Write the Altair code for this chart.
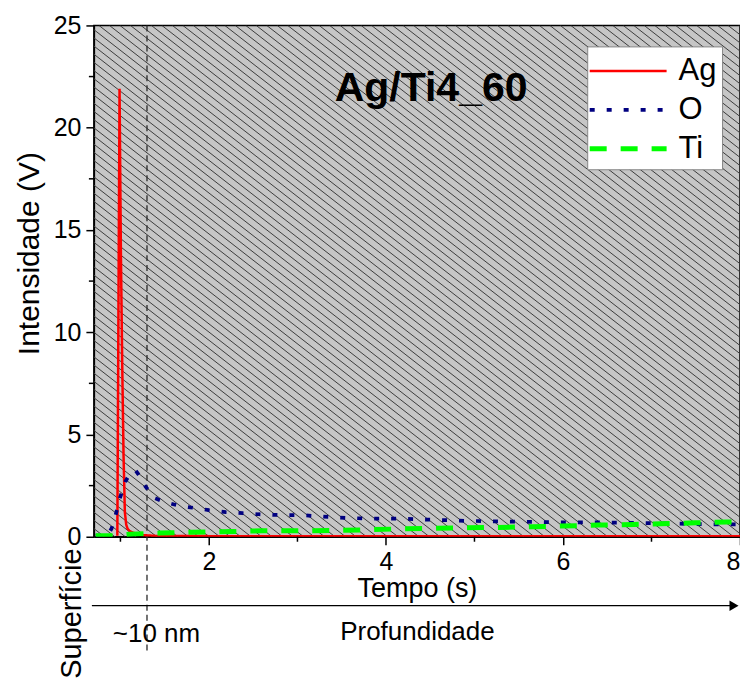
import altair as alt
import pandas as pd
import numpy as np

# ---------------- data ----------------
ag_x = [0.965, 0.99, 1.005, 1.02, 1.035, 1.05, 1.065, 1.08, 1.1, 1.13, 1.18, 1.25, 1.4, 2.0, 3.0, 4.0, 5.0, 6.0, 7.0, 8.0]
ag_y = [0.05, 21.9, 14.0, 8.5, 4.0, 1.2, 0.6, 0.4, 0.3, 0.22, 0.14, 0.08, 0.04, 0.03, 0.03, 0.03, 0.03, 0.03, 0.03, 0.03]

o_x = [0.72, 0.8, 0.86, 0.9, 0.94, 0.995, 1.056, 1.11, 1.17, 1.22, 1.27, 1.38, 1.51, 1.68, 1.85, 2.0,
       2.19, 2.38, 2.56, 2.74, 3.1, 3.46, 3.82, 4.16, 4.53, 4.89, 5.26, 5.65, 5.99, 6.43, 6.78, 7.31, 7.68, 8.0]
o_y = [0.05, 0.06, 0.1, 0.4, 0.96, 1.9, 2.7, 3.1, 3.25, 2.95, 2.54, 1.9, 1.68, 1.5, 1.4, 1.3,
       1.2, 1.15, 1.1, 1.07, 1.04, 0.94, 0.88, 0.88, 0.83, 0.78, 0.75, 0.73, 0.70, 0.70, 0.68, 0.64, 0.6, 0.6]

ti_x = [0.72, 0.8, 0.9, 0.95, 1.0, 1.05, 1.1, 1.2, 1.3, 1.45, 1.6, 1.8, 2.0, 2.3, 2.6, 3.1, 3.46, 3.8,
        4.2, 4.55, 4.9, 5.25, 5.65, 5.97, 6.4, 6.8, 7.1, 7.5, 7.85, 8.0]
ti_y = [0.05, 0.05, 0.05, 0.06, 0.08, 0.1, 0.12, 0.14, 0.16, 0.18, 0.2, 0.22, 0.24, 0.26, 0.29, 0.29, 0.31, 0.34,
        0.39, 0.41, 0.44, 0.45, 0.49, 0.52, 0.57, 0.60, 0.63, 0.68, 0.72, 0.73]

series = ["Ag", "O", "Ti"]
series_colors = ["#ff0000", "#000080", "#00ff00"]
series_dash = [[1, 0], [5, 12], [17, 14]]
series_width = [2.5, 5, 4.5]

x_ticks = [2, 4, 6, 8]
x_minor = [1, 3, 5, 7]
y_ticks = [0, 5, 10, 15, 20, 25]
y_minor = [2.5, 7.5, 12.5, 17.5, 22.5]

x_dom = [0.7, 8]
y_dom = [0, 25]
cut_x = 1.3   # ~10 nm marker

W, H = 647, 512
FONT = "Liberation Sans, Arial, sans-serif"

df = pd.concat([
    pd.DataFrame({"t": ag_x, "v": ag_y, "s": "Ag"}),
    pd.DataFrame({"t": o_x, "v": o_y, "s": "O"}),
    pd.DataFrame({"t": ti_x, "v": ti_y, "s": "Ti"}),
], ignore_index=True)

xs = alt.Scale(domain=x_dom, nice=False, zero=False)
ys = alt.Scale(domain=y_dom, nice=False)

# ---------------- hatch background (decoration) ----------------
px_per_x = W / (x_dom[1] - x_dom[0])
slope = 0.78
dx_line = (H / slope) / px_per_x
step = 10.5 / px_per_x
starts = np.arange(x_dom[0] - dx_line, x_dom[1] + step, step)
hatch = pd.DataFrame({"x1": starts, "x2": starts + dx_line, "y1": y_dom[1], "y2": y_dom[0]})
hatch_layer = alt.Chart(hatch).mark_rule(color="#3c3c3c", strokeWidth=1, clip=True).encode(
    x=alt.X("x1:Q", scale=xs), x2="x2:Q", y=alt.Y("y1:Q", scale=ys), y2="y2:Q")

# ---------------- dashed marker ----------------
cut = alt.Chart(pd.DataFrame({"c": [cut_x]})).mark_rule(
    color="#2a2a2a", strokeWidth=1.3, strokeDash=[6, 4]).encode(
    x=alt.X("c:Q", scale=xs), y=alt.value(0), y2=alt.value(630))

# ---------------- curves ----------------
sym_len = 77.0
sym_box = 36.0
sym_path = "M-{0:.3f},0H{0:.3f}".format(sym_len / sym_box)

lines = alt.Chart(df).mark_line(clip=True, strokeCap="butt").encode(
    x=alt.X("t:Q", scale=xs,
            axis=alt.Axis(values=x_ticks, format="d", title="Tempo (s)", labelFlush=True, grid=False)),
    y=alt.Y("v:Q", scale=ys,
            axis=alt.Axis(values=y_ticks, title="Intensidade (V)", grid=False, titleY=228,
                          titleFontSize=30)),
    color=alt.Color("s:N", scale=alt.Scale(domain=series, range=series_colors), title=None,
                    legend=alt.Legend(orient="none", legendX=494, legendY=21, title=None,
                                      symbolType=sym_path, symbolSize=sym_box * sym_box,
                                      symbolOffset=(sym_len - sym_box) / 2 - 5,
                                      labelFontSize=31, labelFont=FONT,
                                      labelOffset=sym_len - sym_box - 11,
                                      fillColor="white", strokeColor="#888888",
                                      padding=5, rowPadding=3.5)),
    strokeDash=alt.StrokeDash("s:N", scale=alt.Scale(domain=series, range=series_dash), title=None),
    strokeWidth=alt.StrokeWidth("s:N", scale=alt.Scale(domain=series, range=series_width), title=None),
    order="t:Q",
)

# ---------------- minor ticks ----------------
xminor = alt.Chart(pd.DataFrame({"m": x_minor})).mark_rule(color="black", strokeWidth=1.5).encode(
    x=alt.X("m:Q", scale=xs), y=alt.value(H), y2=alt.value(H + 5))
yminor = alt.Chart(pd.DataFrame({"m": y_minor})).mark_rule(color="black", strokeWidth=1.5).encode(
    y=alt.Y("m:Q", scale=ys), x=alt.value(-5), x2=alt.value(0))

# ---------------- title inside plot ----------------
title = alt.Chart(pd.DataFrame({"tx": [4.51], "ty": [21.9], "lab": ["Ag/Ti4_60"]})).mark_text(
    font=FONT, fontSize=41, fontWeight="bold", color="black", align="center", baseline="middle").encode(
    x=alt.X("tx:Q", scale=xs), y=alt.Y("ty:Q", scale=ys), text="lab:N")

# ---------------- depth annotation below axis ----------------
arrow = alt.Chart(pd.DataFrame({"a": [0]})).mark_rule(color="black", strokeWidth=1.2).encode(
    x=alt.value(-2), x2=alt.value(640), y=alt.value(581))
head = alt.Chart(pd.DataFrame({"a": [0]})).mark_point(
    shape="triangle-right", filled=True, color="black", size=110, opacity=1).encode(
    x=alt.value(641), y=alt.value(581))
t_nm = alt.Chart(pd.DataFrame({"lab": ["~10 nm"]})).mark_text(
    font=FONT, fontSize=26, align="left", baseline="middle", color="black").encode(
    x=alt.value(19), y=alt.value(609), text="lab:N")
t_prof = alt.Chart(pd.DataFrame({"lab": ["Profundidade"]})).mark_text(
    font=FONT, fontSize=26, align="center", baseline="middle", color="black").encode(
    x=alt.value(324), y=alt.value(607), text="lab:N")
t_sup = alt.Chart(pd.DataFrame({"lab": ["Superfície"]})).mark_text(
    font=FONT, fontSize=29, align="center", baseline="middle", angle=270, color="black").encode(
    x=alt.value(-22), y=alt.value(589), text="lab:N")

chart = alt.layer(
    hatch_layer, cut, lines, xminor, yminor, title, arrow, head, t_nm, t_prof, t_sup
).properties(
    width=W, height=H,
    autosize=alt.AutoSizeParams(type="none"),
    padding={"left": 86, "top": 17, "right": 0, "bottom": 150},
).configure_view(
    fill="#c6c6c6", stroke="black", strokeWidth=1.5
).configure_axis(
    labelFont=FONT, titleFont=FONT, labelFontSize=25, titleFontSize=27,
    labelColor="black", titleColor="black", titleFontWeight="normal",
    domainColor="black", domainWidth=1.5, tickColor="black", tickWidth=1.5, tickSize=8,
    labelPadding=5,
).configure_axisX(titlePadding=1).configure_axisY(titlePadding=9)

chart.save("out.html", embed_options={"renderer": "svg", "actions": False})
